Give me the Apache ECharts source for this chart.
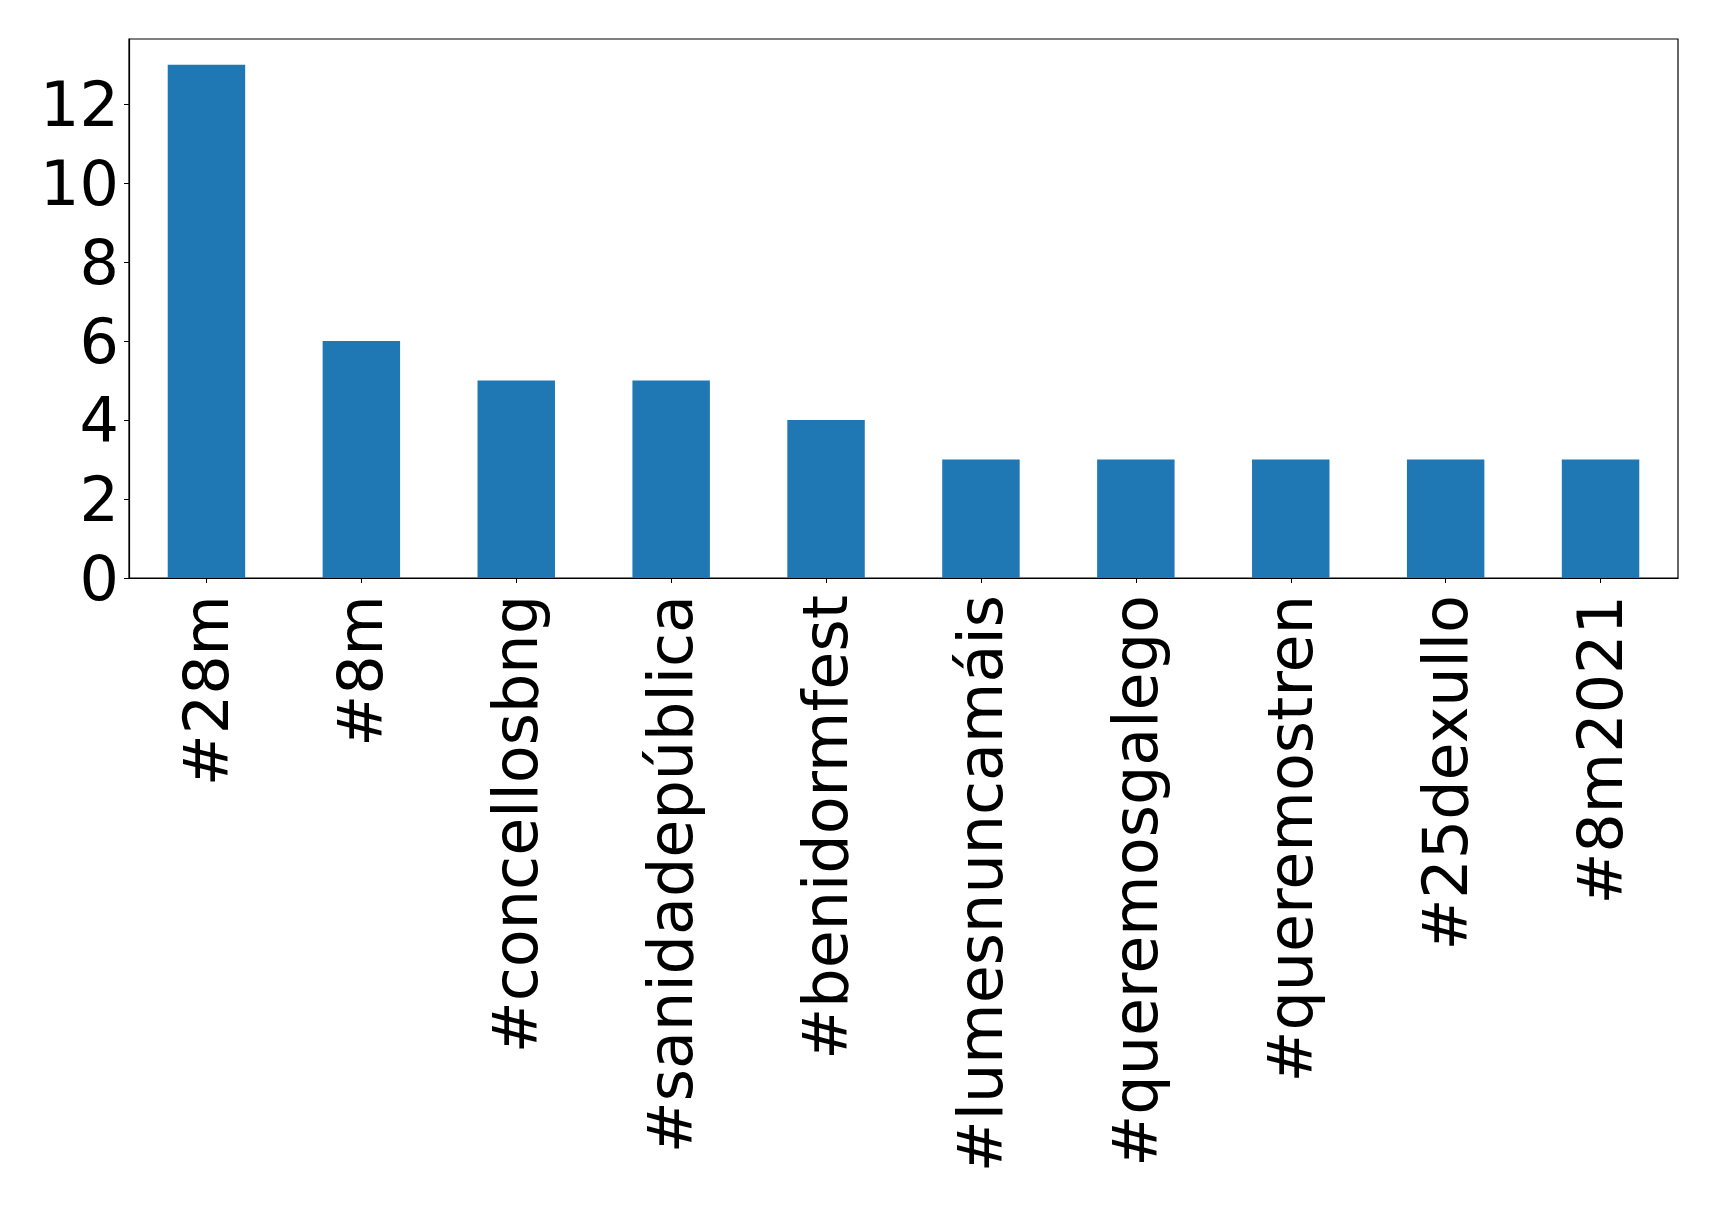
<!DOCTYPE html>
<html>
<head>
<meta charset="utf-8">
<script src="https://cdn.jsdelivr.net/npm/echarts@6/dist/echarts.min.js"></script>
<style>html,body{margin:0;padding:0;background:#fff}#c{width:1719px;height:1209px}</style>
</head>
<body>
<div id="c"></div>
<script>
const categories = ["#28m", "#8m", "#concellosbng", "#sanidadepública", "#benidormfest", "#lumesnuncamáis", "#queremosgalego", "#queremostren", "#25dexullo", "#8m2021"];
const counts = [13, 6, 5, 5, 4, 3, 3, 3, 3, 3];
const yTicks = [0, 2, 4, 6, 8, 10, 12];

const FONT = "DejaVu Sans";
const FS = 62;
const chart = echarts.init(document.getElementById('c'), null, {renderer: 'canvas'});
chart.setOption({
  animation: false,
  backgroundColor: '#ffffff',
  grid: {left: 129, top: 39, width: 1549, height: 539, show: true, borderColor: '#000', borderWidth: 1.2, backgroundColor: 'transparent'},
  xAxis: {
    type: 'category',
    data: categories,
    axisLine: {show: true, lineStyle: {color: '#000', width: 1.2}},
    axisTick: {show: true, alignWithLabel: true, length: 5, lineStyle: {color: '#000', width: 1}},
    axisLabel: {rotate: 90, color: '#000', margin: 17, interval: 0,
      formatter: v => '{a|' + v + '}',
      rich: {a: {fontFamily: FONT, fontSize: FS, color: '#000', padding: [10, 0, 0, 0]}}}
  },
  yAxis: {
    type: 'value',
    min: 0,
    max: 13.65,
    interval: 2,
    splitLine: {show: false},
    axisLine: {show: true, lineStyle: {color: '#000', width: 1.2}},
    axisTick: {show: true, length: 5, lineStyle: {color: '#000', width: 1}},
    axisLabel: {
      color: '#000', margin: 10,
      showMaxLabel: false,
      formatter: v => yTicks.includes(v) ? '{a|' + v + '}' : '',
      rich: {a: {fontFamily: FONT, fontSize: FS, color: '#000', padding: [12, 0, 0, 0]}}
    }
  },
  series: [{
    type: 'bar',
    data: counts,
    barWidth: '50%',
    itemStyle: {color: '#1f77b4'}
  }]
});
</script>
</body>
</html>
